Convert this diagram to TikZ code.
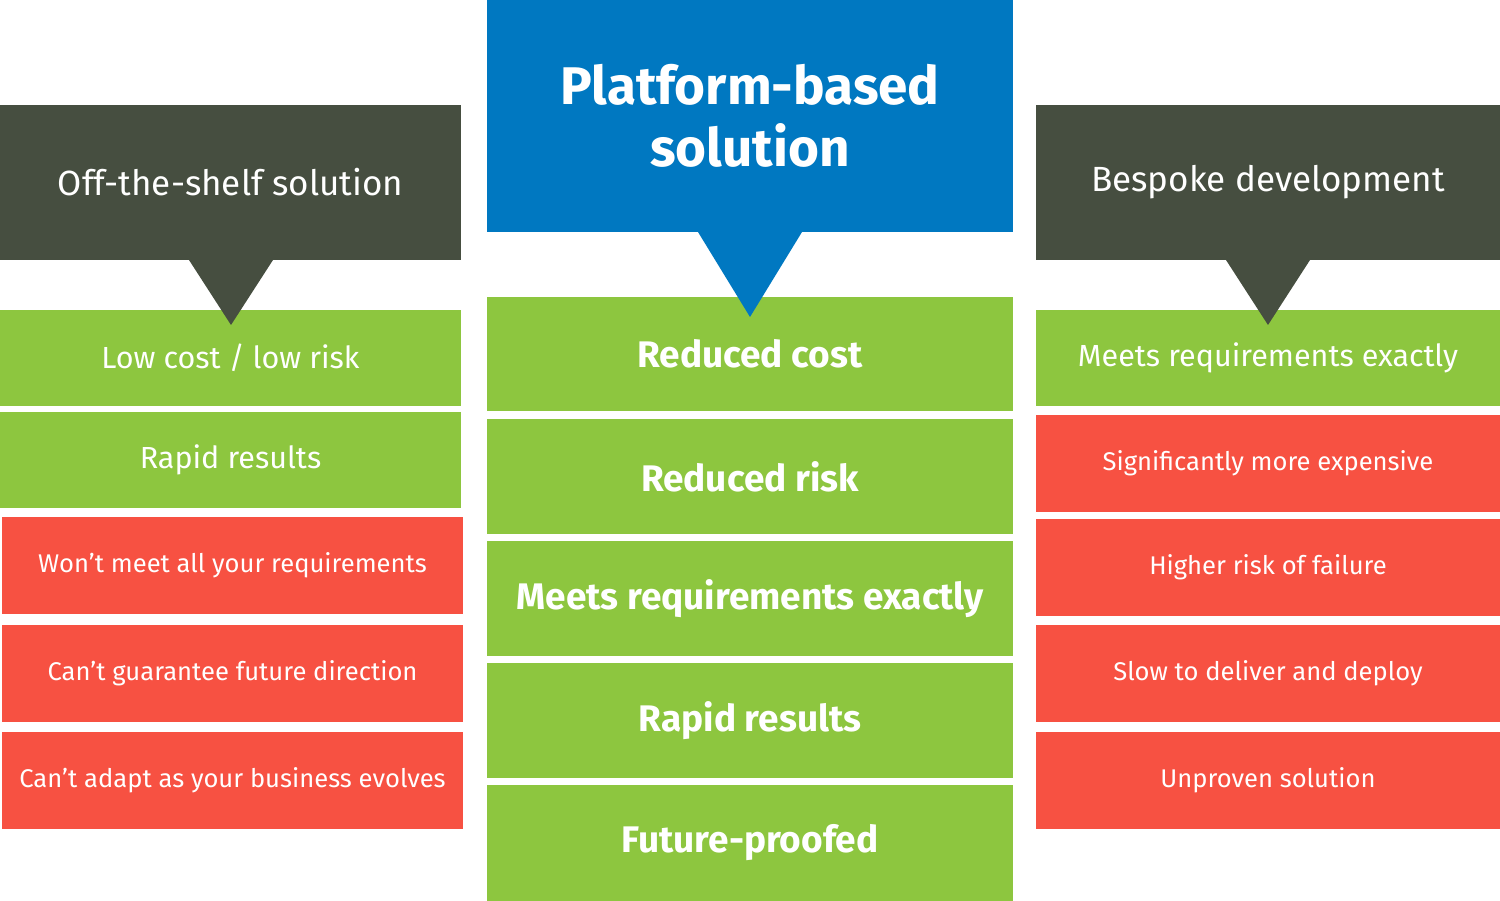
\documentclass[tikz,border=0pt]{standalone}
\usepackage{fontspec}
\setmainfont{Fira Sans}
\definecolor{darkhdr}{HTML}{464E40}
\definecolor{bluehdr}{HTML}{0078C1}
\definecolor{goodgreen}{HTML}{8DC63F}
\definecolor{badred}{HTML}{F75142}
\begin{document}
\begin{tikzpicture}[x=1pt,y=-1pt,
  cell/.style={anchor=north west,inner sep=0pt,outer sep=0pt,text=white,align=center},
  hdr/.style={cell,fill=darkhdr,font=\fontsize{35}{40}\selectfont},
  bluebox/.style={cell,fill=bluehdr,font=\fontsize{53}{62}\selectfont\bfseries},
  goodl/.style={cell,fill=goodgreen,font=\fontsize{30.5}{34}\selectfont},
  badl/.style={cell,fill=badred,font=\fontsize{25.6}{30}\selectfont},
  goodc/.style={cell,fill=goodgreen,font=\fontsize{37}{40}\selectfont\bfseries}
]
\useasboundingbox (0,0) rectangle (1500,901);
\fill[white] (0,0) rectangle (1500,901);

% Left column
\node[hdr,minimum width=461pt,minimum height=155pt] (h1) at (0,105) {Off-the-shelf solution};
\node[goodl,minimum width=461pt,minimum height=96pt] (l1) at (0,310) {Low cost / low risk};
\node[goodl,minimum width=461pt,minimum height=96pt] (l2) at (0,412) {Rapid results};
\node[badl,minimum width=461pt,minimum height=97pt] (l3) at (2,517) {Won’t meet all your requirements};
\node[badl,minimum width=461pt,minimum height=97pt] (l4) at (2,625) {Can’t guarantee future direction};
\node[badl,minimum width=461pt,minimum height=97pt] (l5) at (2,732) {Can’t adapt as your business evolves};

% Centre column
\node[bluebox,minimum width=526pt,minimum height=232pt] (h2) at (487,0) {Platform-based\\solution};
\node[goodc,minimum width=526pt,minimum height=114pt] (c1) at (487,297) {Reduced cost};
\node[goodc,minimum width=526pt,minimum height=115pt] (c2) at (487,419) {Reduced risk};
\node[goodc,minimum width=526pt,minimum height=115pt] (c3) at (487,541) {Meets requirements exactly};
\node[goodc,minimum width=526pt,minimum height=115pt] (c4) at (487,663) {Rapid results};
\node[goodc,minimum width=526pt,minimum height=116pt] (c5) at (487,785) {Future-proofed};

% Right column
\node[hdr,minimum width=464pt,minimum height=155pt] (h3) at (1036,105) {Bespoke development};
\node[goodl,minimum width=464pt,minimum height=96pt] (r1) at (1036,310) {Meets requirements exactly};
\node[badl,minimum width=464pt,minimum height=97pt] (r2) at (1036,415) {Significantly more expensive};
\node[badl,minimum width=464pt,minimum height=97pt] (r3) at (1036,519) {Higher risk of failure};
\node[badl,minimum width=464pt,minimum height=97pt] (r4) at (1036,625) {Slow to deliver and deploy};
\node[badl,minimum width=464pt,minimum height=97pt] (r5) at (1036,732) {Unproven solution};

% Pointers
\coordinate (t1) at (231,325);
\coordinate (t2) at (750,317);
\coordinate (t3) at (1268,325);
\fill[darkhdr] ([xshift=-42pt]h1.south -| t1) -- (t1) -- ([xshift=42pt]h1.south -| t1) -- cycle;
\fill[bluehdr] ([xshift=-52pt]h2.south -| t2) -- (t2) -- ([xshift=52pt]h2.south -| t2) -- cycle;
\fill[darkhdr] ([xshift=-42pt]h3.south -| t3) -- (t3) -- ([xshift=42pt]h3.south -| t3) -- cycle;
\end{tikzpicture}
\end{document}
